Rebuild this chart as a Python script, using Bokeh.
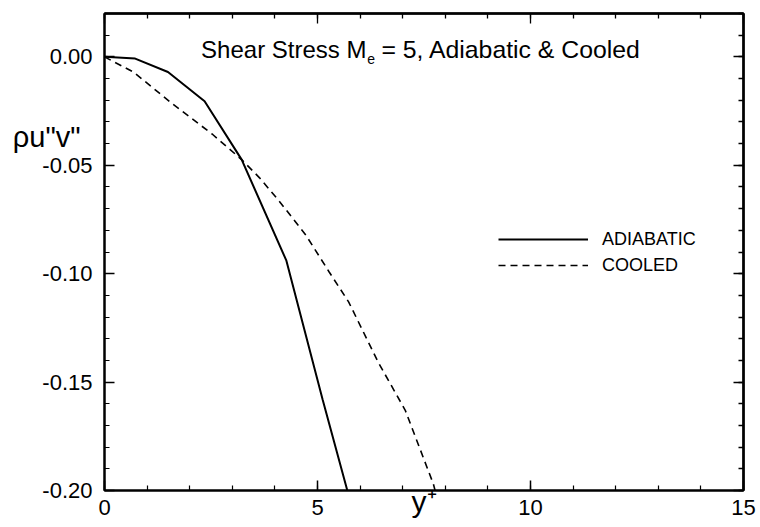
from bokeh.plotting import figure
from bokeh.models import (Range1d, FixedTicker, LinearAxis, Label, NumeralTickFormatter)
from bokeh.embed import file_html
from bokeh.resources import INLINE

# ---- data ----
adiabatic_x = [0.0, 0.72, 1.49, 2.35, 3.22, 4.27, 5.12, 5.70]
adiabatic_y = [0.0, -0.0008, -0.0070, -0.0205, -0.0474, -0.0940, -0.1580, -0.2000]

cooled_x = [0.0, 0.68, 1.61, 2.54, 3.22, 3.64, 4.10, 4.73, 5.27, 5.73, 6.13, 6.43, 7.06, 7.72, 7.76]
cooled_y = [0.0, -0.0070, -0.0219, -0.0358, -0.0474, -0.0558, -0.0665, -0.0823, -0.0991,
            -0.1130, -0.1290, -0.1410, -0.1630, -0.1970, -0.2000]

x_major = [0, 5, 10, 15]
x_minor = list(range(0, 16))
y_major = [-0.20, -0.15, -0.10, -0.05, 0.00]
y_minor = [round(-0.20 + 0.01 * i, 2) for i in range(23)]

FONT = "Liberation Sans"

p = figure(width=760, height=527, output_backend="svg", toolbar_location=None,
           x_range=Range1d(0, 15), y_range=Range1d(-0.20, 0.02),
           min_border_left=104, min_border_right=17, min_border_top=13, min_border_bottom=37)
p.xgrid.visible = False
p.ygrid.visible = False
p.outline_line_color = "black"
p.outline_line_width = 2
p.background_fill_color = "white"
p.border_fill_color = "white"

def style(ax, standoff):
    ax.axis_line_width = 2
    ax.axis_line_color = "black"
    ax.major_tick_in = 10
    ax.major_tick_out = 0
    ax.minor_tick_in = 5
    ax.minor_tick_out = 0
    ax.major_tick_line_width = 1.5
    ax.minor_tick_line_width = 1.2
    ax.major_label_text_font = FONT
    ax.major_label_text_color = "black"
    ax.major_label_text_font_size = "22px"
    ax.major_label_standoff = standoff

p.xaxis.ticker = FixedTicker(ticks=x_major, minor_ticks=x_minor)
p.yaxis.ticker = FixedTicker(ticks=y_major, minor_ticks=y_minor)
p.yaxis.formatter = NumeralTickFormatter(format="0.00")
style(p.xaxis[0], 9)
style(p.yaxis[0], 12)

# label-free tick axes on top and right (minor ticks only, so no tick labels at all)
def tick_axis(minor_positions, length):
    ax = LinearAxis(ticker=FixedTicker(ticks=[], minor_ticks=minor_positions))
    ax.axis_line_width = 2
    ax.axis_line_color = "black"
    ax.minor_tick_in = length
    ax.minor_tick_out = 0
    ax.minor_tick_line_width = 1.3
    ax.major_tick_out = 0
    ax.major_label_standoff = 0
    return ax

p.add_layout(tick_axis(x_minor, 5), "above")
p.add_layout(tick_axis(x_major, 10), "above")
p.add_layout(tick_axis(y_minor, 5), "right")
p.add_layout(tick_axis(y_major, 10), "right")

# axis titles: tick-less axes whose label is pulled in next to the tick labels
def title_axis(text, size, standoff, orientation="parallel", line_height=1.2):
    ax = LinearAxis(ticker=FixedTicker(ticks=[], minor_ticks=[]))
    ax.axis_line_color = None
    ax.major_tick_out = 0
    ax.major_tick_in = 0
    ax.minor_tick_out = 0
    ax.minor_tick_in = 0
    ax.major_label_standoff = 0
    ax.axis_label = text
    ax.axis_label_text_font = FONT
    ax.axis_label_text_font_size = size
    ax.axis_label_text_font_style = "normal"
    ax.axis_label_text_color = "black"
    ax.axis_label_text_line_height = line_height
    ax.axis_label_standoff = standoff
    ax.axis_label_orientation = orientation
    return ax

# y title: a second (empty) line with a tall line height lifts the text to the top-left
p.add_layout(title_axis("\u03c1u\"v\"\n", "29px", -41, "horizontal", 7.2), "left")
p.add_layout(title_axis("y\u207a", "30px", -33, "parallel", 0.8), "below")

p.line(adiabatic_x, adiabatic_y, line_color="black", line_width=2, legend_label="ADIABATIC")
p.line(cooled_x, cooled_y, line_color="black", line_width=1.6, line_dash="7 5", legend_label="COOLED")

lg = p.legend[0]
lg.location = (394, 212)
lg.border_line_color = None
lg.background_fill_alpha = 0
lg.padding = 0
lg.margin = 0
lg.spacing = 0
lg.glyph_width = 90
lg.glyph_height = 26
lg.label_height = 26
lg.label_standoff = 14
lg.label_text_font = FONT
lg.label_text_font_size = "18px"
lg.label_text_color = "black"

def lab(x, y, text, size, align="left"):
    p.add_layout(Label(x=x, y=y, text=text, text_font=FONT, text_font_size=size,
                       text_align=align, text_baseline="alphabetic", text_color="black"))

# title inside the frame
lab(6.15, 0.0033, "Shear Stress M", "24px", align="right")
lab(6.17, -0.0009, "e", "14px")
lab(6.50, 0.0033, "= 5, Adiabatic & Cooled", "24.8px")

open("out.html", "w").write(file_html(p, INLINE))
